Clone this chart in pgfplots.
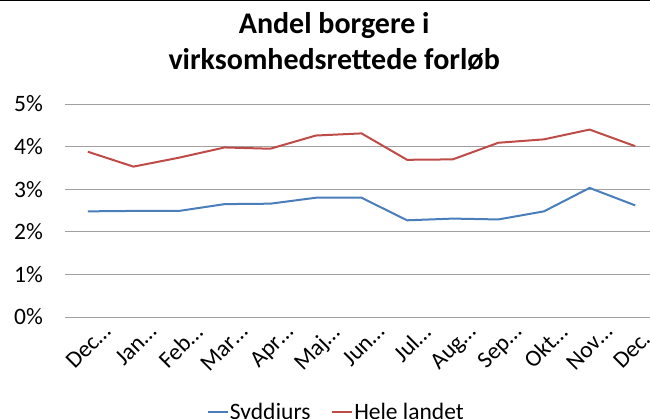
\documentclass[border=0pt]{standalone}
\usepackage{fontspec}
\setmainfont{Carlito}
\usepackage{pgfplots}
\pgfplotsset{compat=1.18}
\definecolor{sblue}{RGB}{74,126,187}
\definecolor{sred}{RGB}{190,75,72}
\definecolor{gridc}{RGB}{160,160,160}
\begin{document}
\begin{tikzpicture}
\useasboundingbox (-65pt,-101pt) rectangle (585pt,317pt);
\draw[black, line width=2pt] (-65pt,317pt) -- (585pt,317pt);
\begin{axis}[
  scale only axis,
  width=593pt, height=213pt,
  xmin=-0.5, xmax=12.5,
  ymin=0, ymax=5,
  ytick={0,1,2,3,4,5},
  yticklabels={0\%,1\%,2\%,3\%,4\%,5\%},
  xtick={0,...,12},
  xticklabels={Dec…,Jan…,Feb…,Mar…,Apr…,Maj…,Jun…,Jul…,Aug…,Sep…,Okt…,Nov…,Dec…},
  /pgf/number format/assume math mode=true,
  axis line style={draw=none},
  major tick length=0pt,
  ymajorgrids,
  major grid style={gridc, line width=0.9pt},
  tick label style={font=\fontsize{23.5}{26}\selectfont},
  yticklabel style={anchor=east, inner sep=0pt, xshift=-22pt},
  xticklabel style={rotate=45, anchor=north east, inner sep=0pt, xshift=6pt, yshift=-13pt},
  title={Andel borgere i\\virksomhedsrettede forløb},
  title style={at={(0.454,1)}, anchor=south, yshift=27pt, inner sep=0pt, align=center, font=\fontsize{30}{36}\selectfont\bfseries},
  legend columns=2,
  legend style={at={(0.457,0)}, anchor=center, yshift=-95pt, draw=none, fill=none,
    font=\fontsize{23.5}{26}\selectfont, inner sep=0pt,
    /tikz/every even column/.append style={column sep=20pt},
    nodes={inner sep=1pt}},
  legend image code/.code={\draw[#1, line width=1.75pt] (0pt,0pt) -- (20pt,0pt);},
]
\addplot[sblue, line width=2pt] coordinates {
(0,2.48) (1,2.49) (2,2.49) (3,2.65) (4,2.66) (5,2.80) (6,2.80) (7,2.27) (8,2.31) (9,2.29) (10,2.48) (11,3.03) (12,2.62)};
\addlegendentry{Syddjurs}
\addplot[sred, line width=2pt] coordinates {
(0,3.88) (1,3.53) (2,3.74) (3,3.98) (4,3.95) (5,4.26) (6,4.31) (7,3.69) (8,3.70) (9,4.09) (10,4.17) (11,4.40) (12,4.01)};
\addlegendentry{Hele landet}
\end{axis}
\end{tikzpicture}
\end{document}
